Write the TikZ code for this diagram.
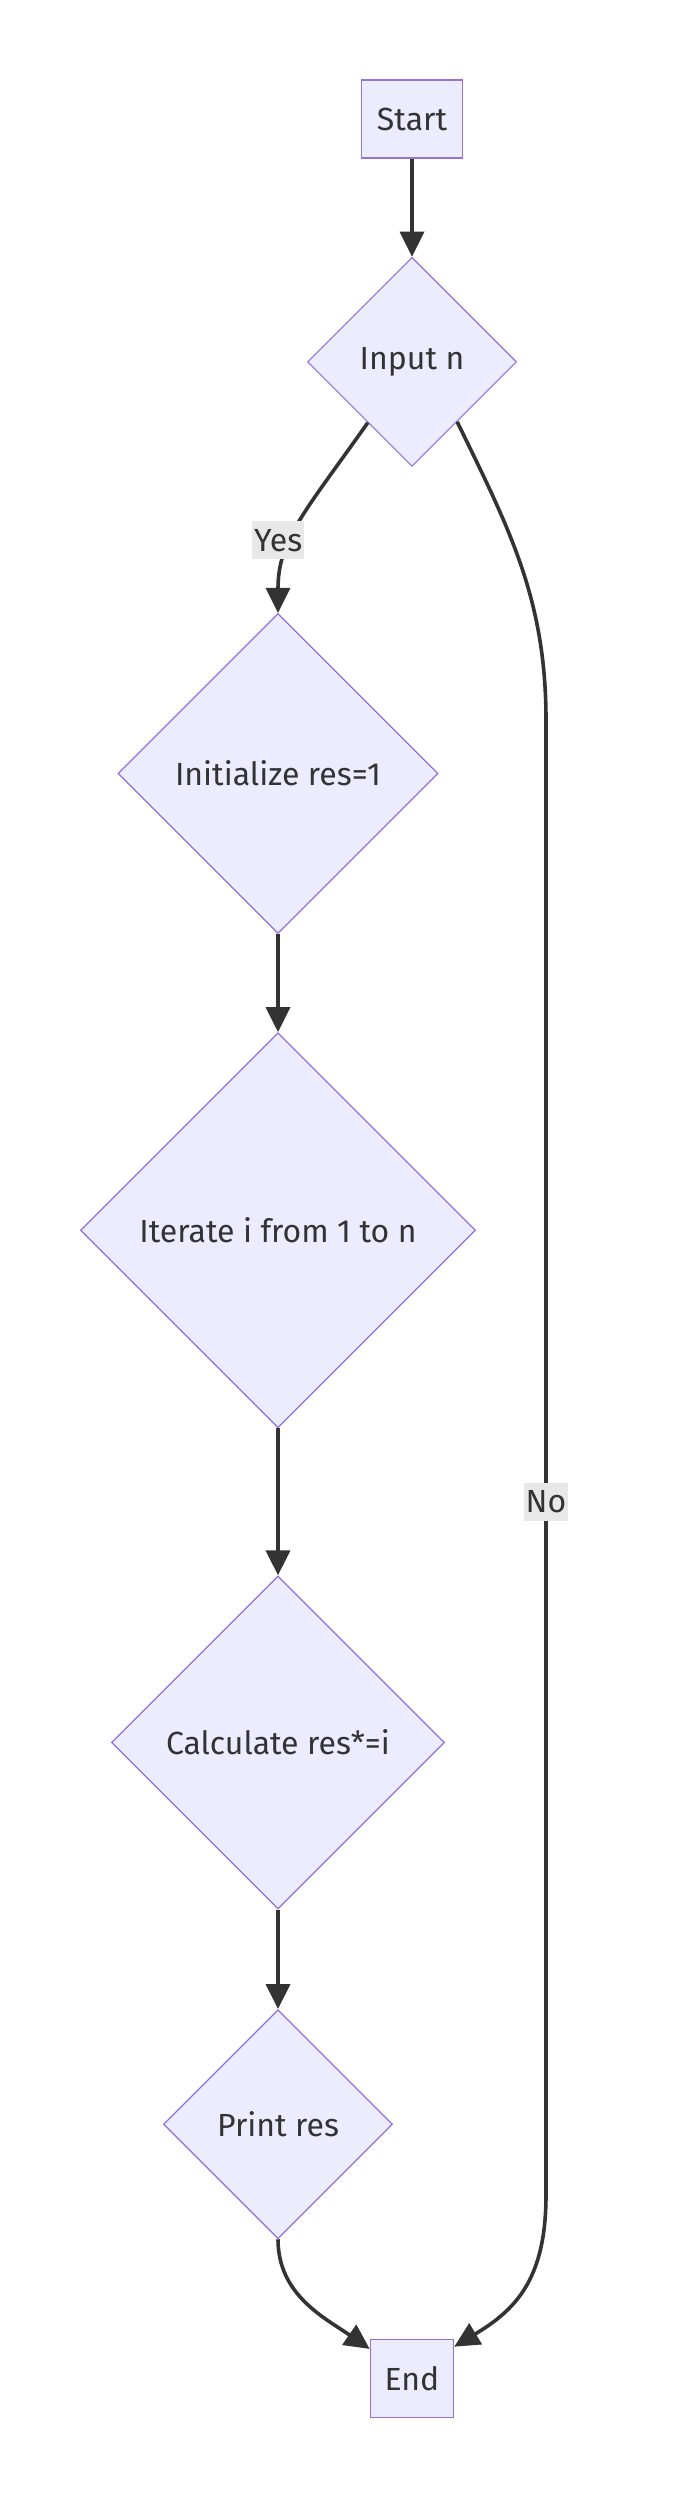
\documentclass[tikz,border=0pt]{standalone}
\usepackage{fontspec}
\setmainfont{Fira Sans}
\usetikzlibrary{arrows.meta, positioning, shapes.geometric}
\definecolor{nodefill}{HTML}{ECECFF}
\definecolor{nodeline}{HTML}{9370DB}
\definecolor{edgecol}{HTML}{333333}
\definecolor{lblfill}{HTML}{E8E8E8}

\begin{document}
\begin{tikzpicture}[x=1pt, y=1pt, node distance=98pt]
  \tikzset{
    termbox/.style={rectangle, draw=nodeline, fill=nodefill, line width=1.5pt,
                    minimum height=78pt, inner sep=0pt, text=edgecol,
                    font=\fontsize{32}{38}\selectfont},
    decbox/.style={diamond, aspect=1, draw=nodeline, fill=nodefill, line width=1.2pt,
                   inner sep=0pt, text=edgecol, font=\fontsize{32}{38}\selectfont},
    lbl/.style={rectangle, fill=lblfill, inner xsep=2pt, minimum height=38pt,
                text=edgecol, font=\fontsize{32}{38}\selectfont},
    arr/.style={-{Triangle[length=25pt, width=24pt]}, line width=3.6pt, draw=edgecol}
  }
  \useasboundingbox (0,0) rectangle (691,-2519);
  % Start and input
  \node[termbox, minimum width=101pt] at (412,-119) (start) {Start};
  \node[decbox, minimum size=209pt, below=98pt of start] (input) {Input n};
  % Main chain
  \node[decbox, minimum size=320pt, below=146pt of input, xshift=-134pt] (init) {Initialize res=1};
  \node[decbox, minimum size=395pt, below=98pt of init]  (iter)  {Iterate i from 1 to n};
  \node[decbox, minimum size=333pt, below=147pt of iter] (calc)  {Calculate res*=i};
  \node[decbox, minimum size=229pt, below=99.5pt of calc] (print) {Print res};
  \node[termbox, minimum width=83pt, below=99.5pt of print, xshift=134pt] (end) {End};
  % Bends of the No branch
  \coordinate (nohi) at (546,-720);
  \coordinate (nolo) at (546,-2195);
  % Straight arrows
  \foreach \a/\b in {start/input,init/iter,iter/calc,calc/print}
    \draw[arr] (\a) -- (\b);
  % Yes branch
  \draw[arr] (input.234) .. controls (304,-513) and (278,-540) ..
    node[lbl, pos=0.6, xshift=-13pt] (yes) {Yes} (init.north);
  % No branch
  \draw[arr] (input.307) .. controls (510,-530) and (546,-600) .. (nohi)
    -- node[lbl, pos=0.53] (no) {No} (nolo)
    .. controls (546,-2280) and (515,-2310) .. (end.37);
  % Print to end
  \draw[arr] (print.south) .. controls (278,-2295) and (325,-2318) .. (end.145);
\end{tikzpicture}
\end{document}
